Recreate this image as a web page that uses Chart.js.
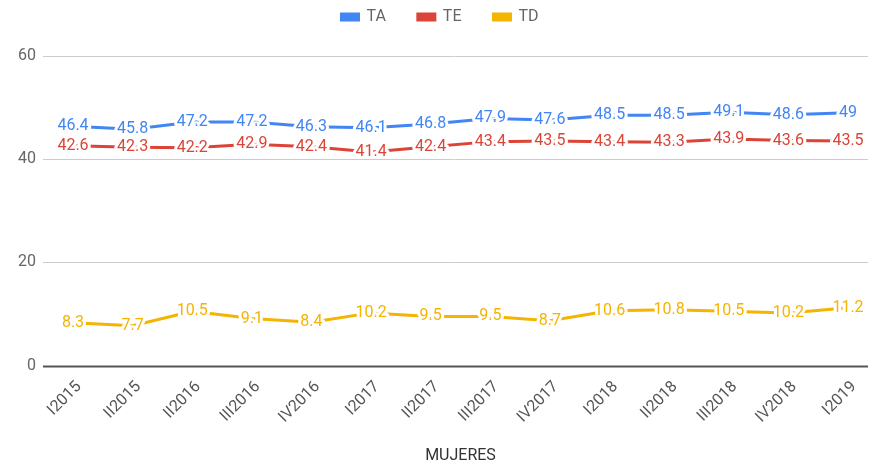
<!DOCTYPE html>
<html>
<head>
<meta charset="utf-8">
<script src="https://cdn.jsdelivr.net/npm/chart.js@4.4.1/dist/chart.umd.min.js"></script>
<style>
  html, body { margin: 0; padding: 0; background: #fff; }
  #wrap { width: 869px; height: 466px; }
</style>
</head>
<body>
<div id="wrap"><canvas id="chart"></canvas></div>
<script>
// data
const quarters = ["I2015", "II2015", "II2016", "III2016", "IV2016", "I2017", "II2017",
  "III2017", "IV2017", "I2018", "II2018", "III2018", "IV2018", "I2019"];
const ta = [46.4, 45.8, 47.2, 47.2, 46.3, 46.1, 46.8, 47.9, 47.6, 48.5, 48.5, 49.1, 48.6, 49];
const te = [42.6, 42.3, 42.2, 42.9, 42.4, 41.4, 42.4, 43.4, 43.5, 43.4, 43.3, 43.9, 43.6, 43.5];
const td = [8.3, 7.7, 10.5, 9.1, 8.4, 10.2, 9.5, 9.5, 8.7, 10.6, 10.8, 10.5, 10.2, 11.2];
const yTicks = [0, 20, 40, 60];

const FONT = "Roboto";

// horizontal grid, wider than the plot like the original
const gridLines = {
  id: "gridLines",
  beforeDatasetsDraw(chart) {
    const { ctx, chartArea, scales: { y } } = chart;
    ctx.save();
    yTicks.forEach(v => {
      const py = Math.round(y.getPixelForValue(v)) + 0.5;
      ctx.strokeStyle = v === 0 ? "#555" : "#ccc";
      ctx.lineWidth = v === 0 ? 2 : 1;
      ctx.beginPath();
      ctx.moveTo(chartArea.left - 30, py);
      ctx.lineTo(chartArea.right + 20, py);
      ctx.stroke();
    });
    ctx.restore();
  }
};

// value labels sitting on the line, with white halo
const valueLabels = {
  id: "valueLabels",
  afterDatasetsDraw(chart) {
    const ctx = chart.ctx;
    ctx.save();
    ctx.font = "16px " + FONT;
    ctx.textAlign = "center";
    ctx.textBaseline = "middle";
    ctx.lineJoin = "round";
    chart.data.datasets.forEach((ds, i) => {
      chart.getDatasetMeta(i).data.forEach((pt, j) => {
        const txt = String(ds.data[j]);
        ctx.strokeStyle = "#fff";
        ctx.lineWidth = 6;
        ctx.strokeText(txt, pt.x, pt.y);
        ctx.fillStyle = ds.borderColor;
        ctx.fillText(txt, pt.x, pt.y);
      });
    });
    ctx.restore();
  }
};

// nudge the legend a bit to the right, centred on the plot like the original
const legendShift = {
  id: "legendShift",
  afterLayout(chart) {
    chart.legend.left += 16;
    chart.legend.right += 16;
  }
};

new Chart(document.getElementById("chart"), {
  type: "line",
  data: {
    labels: quarters,
    datasets: [
      { label: "TA", data: ta, borderColor: "#4285f4", backgroundColor: "#4285f4" },
      { label: "TE", data: te, borderColor: "#db4437", backgroundColor: "#db4437" },
      { label: "TD", data: td, borderColor: "#f4b400", backgroundColor: "#f4b400" }
    ]
  },
  options: {
    responsive: true,
    maintainAspectRatio: false,
    animation: false,
    layout: { padding: { left: 0, right: 21, top: -23, bottom: 0 } },
    elements: {
      line: { borderWidth: 3, tension: 0 },
      point: { radius: 0, hoverRadius: 0 }
    },
    plugins: {
      legend: {
        position: "top",
        labels: {
          boxWidth: 17,
          boxHeight: 6,
          padding: 32,
          color: "#666",
          font: { family: FONT, size: 16 }
        }
      },
      // empty spacer between legend and plot
      subtitle: {
        display: true,
        text: "",
        weight: 500,
        font: { size: 10 },
        padding: { top: 9, bottom: 0 }
      },
      tooltip: { enabled: false }
    },
    scales: {
      x: {
        offset: false,
        afterFit: s => { s.height = 100.5; },
        grid: { display: false },
        border: { display: false },
        ticks: {
          maxRotation: 45,
          minRotation: 45,
          padding: 4,
          labelOffset: 6,
          color: "#555",
          font: { family: FONT, size: 16 }
        },
        title: {
          display: true,
          text: "MUJERES",
          color: "#333",
          padding: { top: 10, bottom: 0 },
          font: { family: FONT, size: 16 }
        }
      },
      y: {
        min: 0,
        max: 60,
        afterFit: s => { s.width = 73; },
        afterBuildTicks: s => { s.ticks = yTicks.map(v => ({ value: v })); },
        grid: { display: false, drawTicks: false },
        border: { display: false },
        ticks: {
          padding: 37,
          color: "#666",
          font: { family: FONT, size: 16 }
        }
      }
    }
  },
  plugins: [gridLines, valueLabels, legendShift]
});
</script>
</body>
</html>
